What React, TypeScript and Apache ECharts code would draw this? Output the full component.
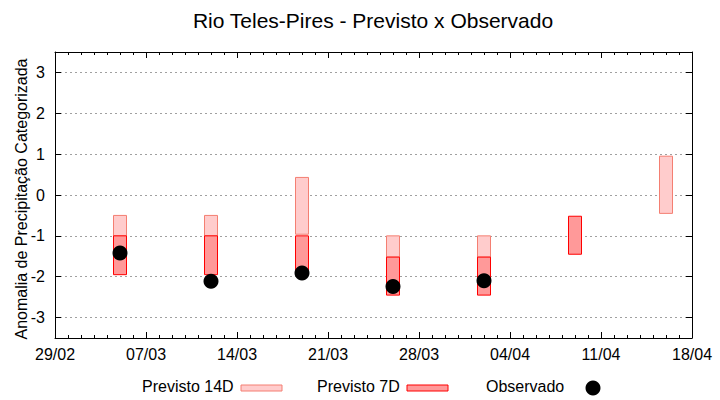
import React, { useEffect, useRef } from "react";
import * as echarts from "echarts";

const startDate = "29/02";
const xTickLabels = ["29/02", "07/03", "14/03", "21/03", "28/03", "04/04", "11/04", "18/04"];
const yTickValues = [-3, -2, -1, 0, 1, 2, 3];

const forecastDates = ["05/03", "12/03", "19/03", "26/03", "02/04", "09/04", "16/04"];
const prev14High = [-0.5, -0.5, 0.43, -1.0, -1.0, null, 0.95];
const prev14Low = [-1.0, -1.0, -0.96, -1.52, -1.52, null, -0.45];
const prev7High = [-1.0, -1.0, -1.0, -1.52, -1.52, -0.52, null];
const prev7Low = [-1.95, -1.95, -1.95, -2.45, -2.45, -1.45, null];

const obsDates = ["05/03", "12/03", "19/03", "26/03", "02/04"];
const observed = [-1.42, -2.11, -1.91, -2.24, -2.1];

const FONT = '"Liberation Sans", Arial, sans-serif';

function dayOffset(ddmm: string): number {
  const [d, m] = ddmm.split("/").map(Number);
  const [d0, m0] = startDate.split("/").map(Number);
  return Math.round((Date.UTC(2024, m - 1, d) - Date.UTC(2024, m0 - 1, d0)) / 86400000);
}

function rangeData(highs: (number | null)[], lows: (number | null)[]) {
  const out: number[][] = [];
  forecastDates.forEach((dt, i) => {
    const h = highs[i];
    const l = lows[i];
    if (h !== null && l !== null) out.push([dayOffset(dt), h, l]);
  });
  return out;
}

function makeRender(fill: string, stroke: string) {
  return (params: any, api: any) => {
    const x = api.value(0);
    const hi = api.value(1);
    const lo = api.value(2);
    const p1 = api.coord([x - 0.5, hi]);
    const p2 = api.coord([x + 0.5, lo]);
    return {
      type: "rect",
      shape: { x: p1[0], y: p1[1], width: p2[0] - p1[0], height: p2[1] - p1[1] },
      style: { fill, stroke, lineWidth: 1 },
    };
  };
}

const C14_FILL = "#ffcccc";
const C14_STROKE = "#f47f72";
const C7_FILL = "#ff9999";
const C7_STROKE = "#ff0000";

export default function App() {
  const ref = useRef<HTMLDivElement>(null);

  useEffect(() => {
    document.body.style.margin = "0";
    if (!ref.current) return;
    const chart = echarts.init(ref.current, null, { renderer: "svg" });

    const xMax = dayOffset(xTickLabels[xTickLabels.length - 1]);
    const baseX = {
      type: "value",
      min: 0,
      max: xMax,
      interval: 7,
      axisLine: { show: true, onZero: false, lineStyle: { color: "#000", width: 1 } },
      axisTick: { show: true, inside: true, length: 6, lineStyle: { color: "#000" } },
      minorTick: { show: true, splitNumber: 7, length: 3, lineStyle: { color: "#000" } },
      splitLine: { show: false },
    };
    const baseY = {
      type: "value",
      min: -3.5,
      max: 3.5,
      splitNumber: 7,
      axisLine: { show: true, onZero: false, lineStyle: { color: "#000", width: 1 } },
      axisTick: { show: true, inside: true, length: 6, lineStyle: { color: "#000" } },
    };

    chart.setOption({
      animation: false,
      backgroundColor: "#fff",
      textStyle: { fontFamily: FONT },
      grid: { left: 55, right: 28, top: 52, bottom: 62, containLabel: false },
      xAxis: [
        {
          ...baseX,
          position: "bottom",
          axisLabel: {
            show: true,
            color: "#000",
            fontSize: 16,
            fontFamily: FONT,
            margin: 8,
            formatter: (v: number) => xTickLabels[Math.round(v / 7)] ?? "",
          },
        },
        { ...baseX, position: "top", axisLabel: { show: false } },
      ],
      yAxis: [
        {
          ...baseY,
          position: "left",
          axisLabel: {
            show: true,
            color: "#000",
            fontSize: 16,
            fontFamily: FONT,
            margin: 10,
            formatter: (v: number) => (yTickValues.includes(v) ? String(v) : ""),
          },
          splitLine: { show: true, lineStyle: { color: "#a0a0a0", type: [2, 3], width: 1 } },
        },
        { ...baseY, position: "right", axisLabel: { show: false }, splitLine: { show: false } },
      ],
      series: [
        {
          name: "Previsto 14D",
          type: "custom",
          renderItem: makeRender(C14_FILL, C14_STROKE),
          encode: { x: 0, y: [1, 2] },
          data: rangeData(prev14High, prev14Low),
          z: 2,
        },
        {
          name: "Previsto 7D",
          type: "custom",
          renderItem: makeRender(C7_FILL, C7_STROKE),
          encode: { x: 0, y: [1, 2] },
          data: rangeData(prev7High, prev7Low),
          z: 3,
        },
        {
          name: "Observado",
          type: "scatter",
          symbol: "circle",
          symbolSize: 15,
          itemStyle: { color: "#000", opacity: 1 },
          data: obsDates.map((d, i) => [dayOffset(d), observed[i]]),
          z: 4,
        },
      ],
      graphic: [
        {
          type: "text",
          x: 373,
          y: 20,
          style: {
            text: "Rio Teles-Pires - Previsto x Observado",
            fontSize: 21,
            fontFamily: FONT,
            fill: "#000",
            align: "center",
            verticalAlign: "middle",
            textAlign: "center",
            textVerticalAlign: "middle",
          },
        },
        {
          type: "text",
          x: 21,
          y: 199,
          rotation: Math.PI / 2,
          style: {
            text: "Anomalia de Precipitação Categorizada",
            fontSize: 16,
            fontFamily: FONT,
            fill: "#000",
            align: "center",
            verticalAlign: "middle",
            textAlign: "center",
            textVerticalAlign: "middle",
          },
        },
        {
          type: "text",
          x: 142,
          y: 386,
          style: { text: "Previsto 14D", fontSize: 16, fontFamily: FONT, fill: "#000", align: "left", verticalAlign: "middle", textAlign: "left", textVerticalAlign: "middle" },
        },
        {
          type: "rect",
          shape: { x: 241, y: 385, width: 41, height: 6 },
          style: { fill: C14_FILL, stroke: C14_STROKE, lineWidth: 1 },
        },
        {
          type: "text",
          x: 317,
          y: 386,
          style: { text: "Previsto 7D", fontSize: 16, fontFamily: FONT, fill: "#000", align: "left", verticalAlign: "middle", textAlign: "left", textVerticalAlign: "middle" },
        },
        {
          type: "rect",
          shape: { x: 407, y: 385, width: 41, height: 6 },
          style: { fill: C7_FILL, stroke: C7_STROKE, lineWidth: 1 },
        },
        {
          type: "text",
          x: 486,
          y: 386,
          style: { text: "Observado", fontSize: 16, fontFamily: FONT, fill: "#000", align: "left", verticalAlign: "middle", textAlign: "left", textVerticalAlign: "middle" },
        },
        {
          type: "circle",
          shape: { cx: 593, cy: 388, r: 7.5 },
          style: { fill: "#000" },
        },
      ],
    });

    return () => chart.dispose();
  }, []);

  return <div ref={ref} style={{ width: 720, height: 400 }} />;
}
